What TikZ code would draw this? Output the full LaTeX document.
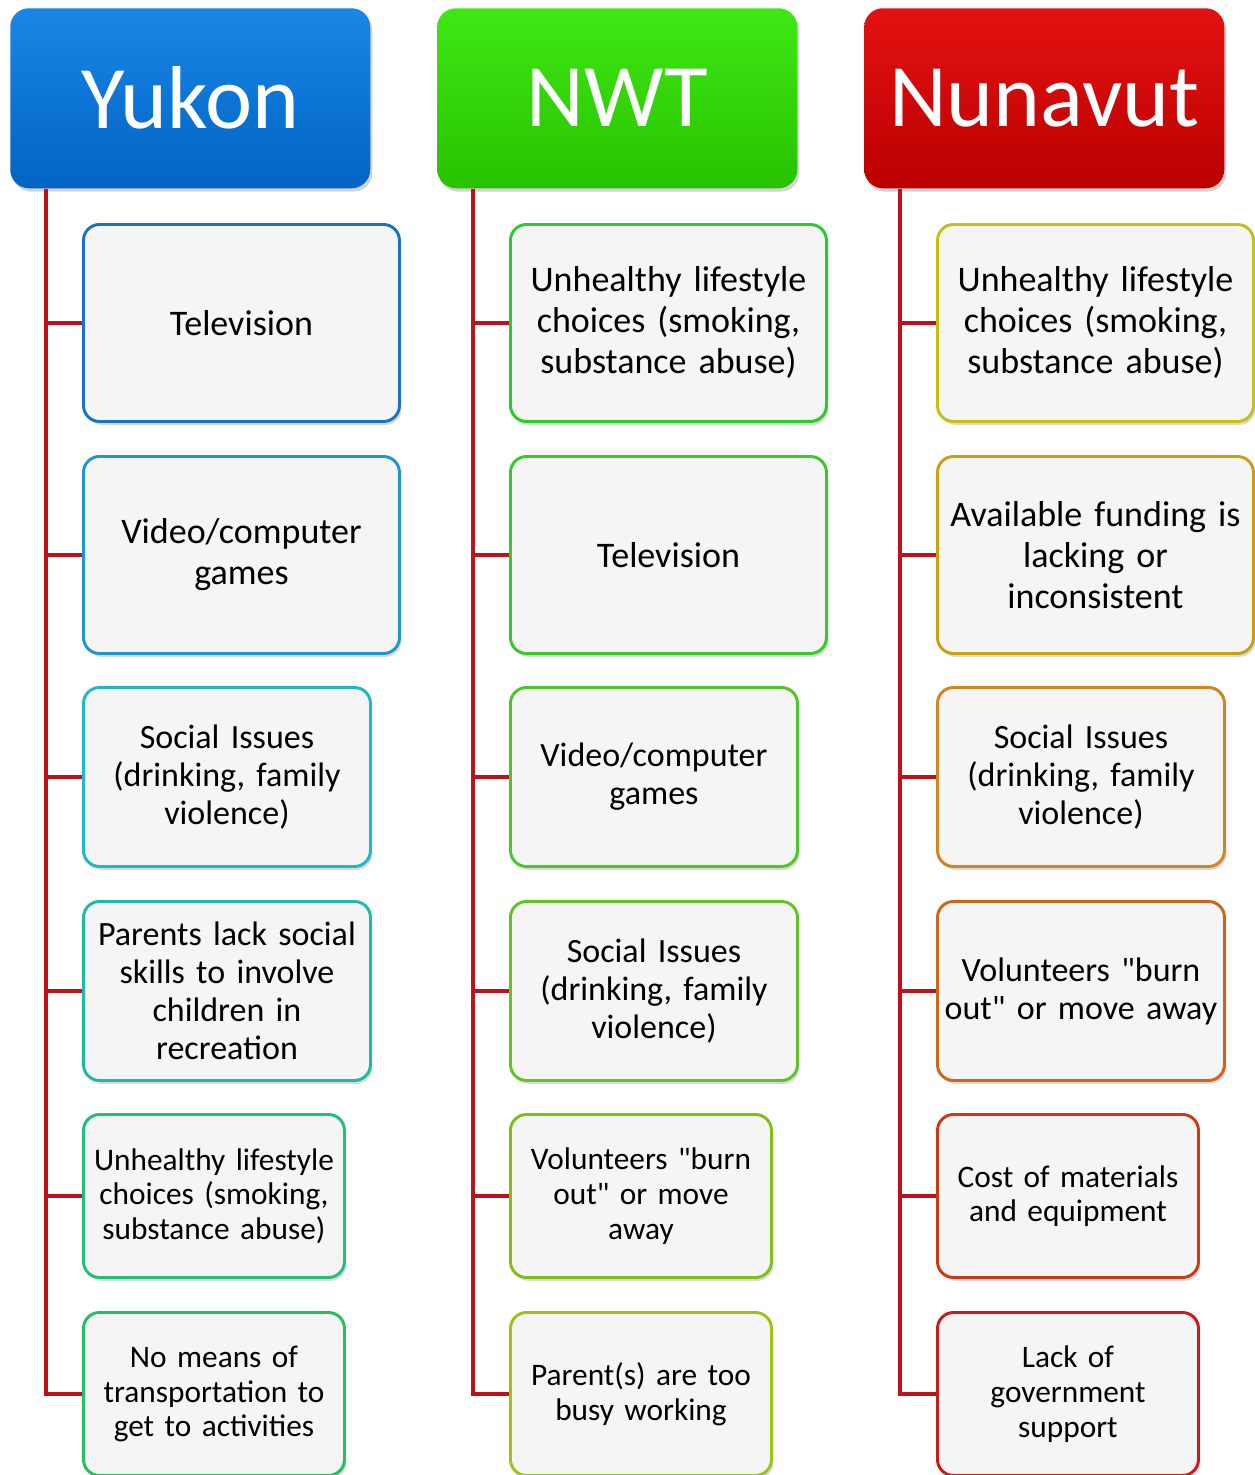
\documentclass[tikz,border=0pt]{standalone}
\usepackage{fontspec}
\setmainfont{Carlito}[Ligatures=TeXOff]
\usepackage{tikz}
\usetikzlibrary{shadows, calc}

\definecolor{spinered}{HTML}{C0101A}
\definecolor{boxgray}{HTML}{F5F5F5}
\definecolor{yukA}{HTML}{1A86E6}
\definecolor{yukB}{HTML}{0064C4}
\definecolor{nwtA}{HTML}{3EE814}
\definecolor{nwtB}{HTML}{28C200}
\definecolor{nunA}{HTML}{E41212}
\definecolor{nunB}{HTML}{BA0000}
\definecolor{yuk1}{HTML}{1A72C4}
\definecolor{yuk2}{HTML}{1E96CE}
\definecolor{yuk3}{HTML}{1EB8CA}
\definecolor{yuk4}{HTML}{1EBBA4}
\definecolor{yuk5}{HTML}{22BF78}
\definecolor{yuk6}{HTML}{22C060}
\definecolor{nwt1}{HTML}{2ACC2A}
\definecolor{nwt2}{HTML}{38CA26}
\definecolor{nwt3}{HTML}{4AC828}
\definecolor{nwt4}{HTML}{62C424}
\definecolor{nwt5}{HTML}{80BE18}
\definecolor{nwt6}{HTML}{9CC414}
\definecolor{nun1}{HTML}{C8C010}
\definecolor{nun2}{HTML}{C8A010}
\definecolor{nun3}{HTML}{D0861C}
\definecolor{nun4}{HTML}{D06418}
\definecolor{nun5}{HTML}{CC3A14}
\definecolor{nun6}{HTML}{CC1A1A}

\begin{document}
\begin{tikzpicture}[x=0.75pt, y=-0.75pt,
    header/.style={rectangle, rounded corners=14pt, anchor=north west,
        minimum width=270pt, minimum height=135pt, text=white,
        font=\fontsize{67}{80}\selectfont,
        drop shadow={opacity=0.35, shadow xshift=1.5pt, shadow yshift=-2.5pt}},
    item/.style={rectangle, rounded corners=12pt, draw, line width=2.2pt,
        fill=boxgray, anchor=north west, align=center, inner xsep=2pt,
        drop shadow={opacity=0.3, shadow xshift=1.5pt, shadow yshift=-2.5pt}},
    bigbox/.style={item, minimum width=237pt, minimum height=147.75pt,
        text width=232pt, font=\fontsize{27}{30.75}\selectfont},
    midbox/.style={item, minimum width=215.25pt, minimum height=134.25pt,
        text width=210pt, font=\fontsize{25.5}{28.5}\selectfont},
    smallbox/.style={item, minimum width=195.75pt, minimum height=122.25pt,
        text width=191pt, font=\fontsize{23.5}{26}\selectfont},
    spine/.style={draw=spinered, line width=3.6pt}
    ]
    \useasboundingbox (0,0) rectangle (1255,1475);

    % headers
    \node[header, top color=yukA, bottom color=yukB] (yuk) at (10,8) {Yukon};
    \node[header, top color=nwtA, bottom color=nwtB] (nwt) at (437,8) {NWT};
    \node[header, top color=nunA, bottom color=nunB] (nun) at (864,8) {Nunavut};

    % Yukon
    \node[bigbox, draw=yuk1] (yuk1) at (82,223) {Television};
    \node[bigbox, draw=yuk2] (yuk2) at (82,455) {Video/computer\\games};
    \node[midbox, draw=yuk3] (yuk3) at (82,686) {Social Issues\\(drinking, family\\violence)};
    \node[midbox, draw=yuk4] (yuk4) at (82,900) {Parents lack social\\skills to involve\\children in\\recreation};
    \node[smallbox, draw=yuk5] (yuk5) at (82,1113) {Unhealthy lifestyle\\choices (smoking,\\substance abuse)};
    \node[smallbox, draw=yuk6] (yuk6) at (82,1311) {No means of\\transportation to\\get to activities};

    % NWT
    \node[bigbox, draw=nwt1] (nwt1) at (509,223) {Unhealthy lifestyle\\choices (smoking,\\substance abuse)};
    \node[bigbox, draw=nwt2] (nwt2) at (509,455) {Television};
    \node[midbox, draw=nwt3] (nwt3) at (509,686) {Video/computer\\games};
    \node[midbox, draw=nwt4] (nwt4) at (509,900) {Social Issues\\(drinking, family\\violence)};
    \node[smallbox, draw=nwt5] (nwt5) at (509,1113) {Volunteers "burn\\out" or move\\away};
    \node[smallbox, draw=nwt6] (nwt6) at (509,1311) {Parent(s) are too\\busy working};

    % Nunavut
    \node[bigbox, draw=nun1] (nun1) at (936,223) {Unhealthy lifestyle\\choices (smoking,\\substance abuse)};
    \node[bigbox, draw=nun2] (nun2) at (936,455) {Available funding is\\lacking or\\inconsistent};
    \node[midbox, draw=nun3] (nun3) at (936,686) {Social Issues\\(drinking, family\\violence)};
    \node[midbox, draw=nun4] (nun4) at (936,900) {Volunteers "burn\\out" or move away};
    \node[smallbox, draw=nun5] (nun5) at (936,1113) {Cost of materials\\and equipment};
    \node[smallbox, draw=nun6] (nun6) at (936,1311) {Lack of\\government\\support};

    % spines and branches
    \foreach \c in {yuk,nwt,nun} {
        \coordinate (\c-top) at ([xshift=27pt]\c.south west);
        \draw[spine] (\c-top) |- (\c6.west);
        \foreach \i in {1,...,5}
            \draw[spine] (\c-top |- \c\i.west) -- (\c\i.west);
    }
\end{tikzpicture}
\end{document}
